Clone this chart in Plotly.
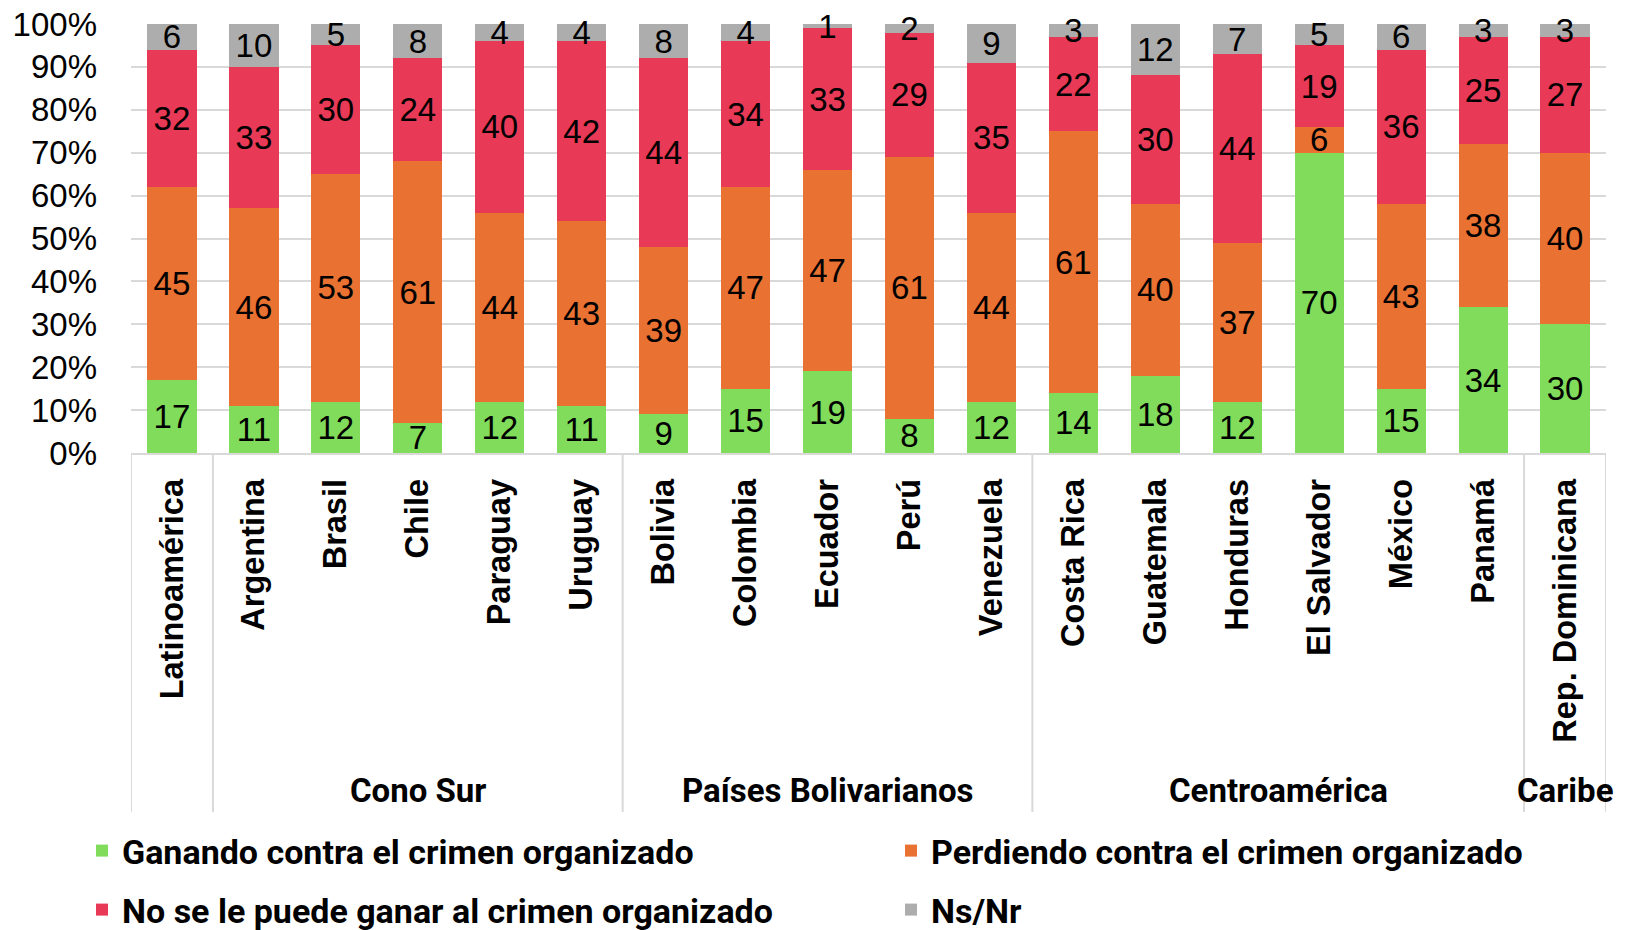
import plotly.graph_objects as go

categories = ["Latinoamérica", "Argentina", "Brasil", "Chile", "Paraguay", "Uruguay",
              "Bolivia", "Colombia", "Ecuador", "Perú", "Venezuela",
              "Costa Rica", "Guatemala", "Honduras", "El Salvador", "México", "Panamá",
              "Rep. Dominicana"]

# region groups: (label, first index, last index)
group_labels = ["", "Cono Sur", "Países Bolivarianos", "Centroamérica", "Caribe"]
group_first = [0, 1, 6, 11, 17]
group_last = [0, 5, 10, 16, 17]

ganando = [17, 11, 12, 7, 12, 11, 9, 15, 19, 8, 12, 14, 18, 12, 70, 15, 34, 30]
perdiendo = [45, 46, 53, 61, 44, 43, 39, 47, 47, 61, 44, 61, 40, 37, 6, 43, 38, 40]
no_se_puede = [32, 33, 30, 24, 40, 42, 44, 34, 33, 29, 35, 22, 30, 44, 19, 36, 25, 27]
ns_nr = [6, 10, 5, 8, 4, 4, 8, 4, 1, 2, 9, 3, 12, 7, 5, 6, 3, 3]

series_names = ["Ganando contra el crimen organizado",
                "Perdiendo contra el crimen organizado",
                "No se le puede ganar al crimen organizado",
                "Ns/Nr"]
series_values = [ganando, perdiendo, no_se_puede, ns_nr]
series_colors = ["#80DC5A", "#E97132", "#E83A56", "#ADADAD"]
series_legend = ["legend", "legend2", "legend3", "legend4"]

y_ticks = list(range(0, 101, 10))

# the page body has an 8px margin, so figure pixels = window pixels - 8
OFF = 8
W, H = 1635 - 2 * OFF, 930 - OFF
ML, MT = 131 - OFF, 24 - OFF
PLOT_R, PLOT_B = 1606 - OFF, 453 - OFF
MR, MB = W - PLOT_R, H - PLOT_B
PW, PH = PLOT_R - ML, PLOT_B - MT


def py(win_y):  # window pixel y -> paper y
    return (PLOT_B - (win_y - OFF)) / PH


def pxx(win_x):  # window pixel x -> paper x
    return ((win_x - OFF) - ML) / PW


fig = go.Figure()
for name, vals, col, lg in zip(series_names, series_values, series_colors, series_legend):
    fig.add_trace(go.Bar(
        x=categories, y=vals, name=name, legend=lg, showlegend=True,
        marker=dict(color=col, line=dict(width=0)),
        text=[str(v) for v in vals], textposition="inside",
        insidetextanchor="middle", textangle=0, constraintext="none",
        cliponaxis=False,
        textfont=dict(family="Liberation Sans, Arial, sans-serif", size=33, color="black"),
        hoverinfo="skip",
    ))

# divider lines of the category axis
dividers = [-0.5] + [g + 0.5 for g in group_last]
for d in dividers:
    fig.add_shape(type="line", xref="x", yref="paper", x0=d, x1=d,
                  y0=0, y1=py(812), line=dict(color="#D9D9D9", width=2), layer="below")

# group labels
for lab, a, b in zip(group_labels, group_first, group_last):
    if lab:
        fig.add_annotation(x=(a + b) / 2, y=py(790), xref="x", yref="paper",
                           text=lab, showarrow=False, yanchor="middle", xanchor="center",
                           font=dict(family="Roboto, Liberation Sans, sans-serif", size=33,
                                     color="black", weight="bold"))

legend_font = dict(family="Roboto, Liberation Sans, sans-serif", size=34,
                   color="black", weight="bold")


def legend_at(text_x, center_y):
    return dict(orientation="h", xanchor="left", yanchor="middle",
                x=pxx(text_x - 41), y=py(center_y), font=legend_font,
                bgcolor="rgba(0,0,0,0)", itemclick=False, itemdoubleclick=False)


fig.update_layout(
    width=W, height=H,
    margin=dict(l=ML, r=MR, t=MT, b=MB, autoexpand=False),
    paper_bgcolor="white", plot_bgcolor="white",
    barmode="stack", bargap=0.4, showlegend=True,
    font=dict(family="Liberation Sans, Arial, sans-serif", color="black"),
    legend=legend_at(123, 851),
    legend2=legend_at(932, 851),
    legend3=legend_at(123, 910),
    legend4=legend_at(932, 910),
    xaxis=dict(
        type="category", range=[-0.5, len(categories) - 0.5],
        showline=True, linecolor="#D9D9D9", linewidth=2,
        showgrid=False, ticks="", tickangle=-90, ticklabelstandoff=11,
        tickfont=dict(family="Liberation Sans, Arial, sans-serif", size=32.5,
                      color="black", weight="bold"),
    ),
    yaxis=dict(
        range=[0, 100], tickvals=y_ticks, ticktext=[f"{v}%" for v in y_ticks],
        showgrid=True, gridcolor="#D9D9D9", gridwidth=2,
        zeroline=False, showline=False, ticks="", ticklabelstandoff=33,
        ticklabeloverflow="allow",
        tickfont=dict(family="Liberation Sans, Arial, sans-serif", size=33, color="black"),
    ),
)

fig.write_html("out.html")
